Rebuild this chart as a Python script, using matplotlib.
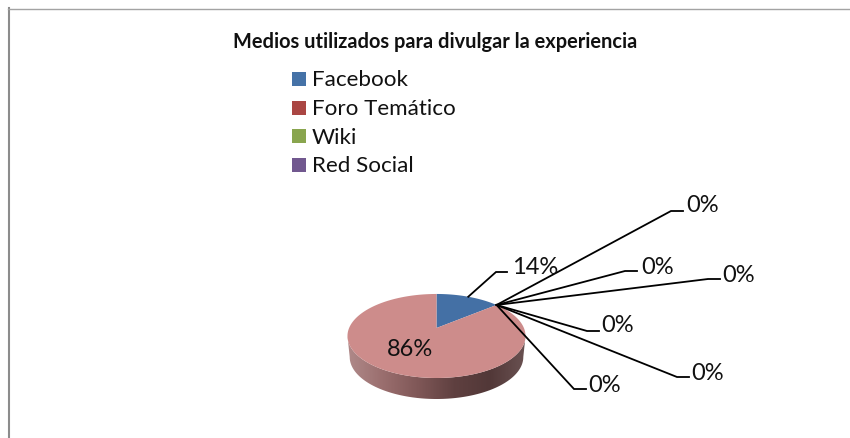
# Pie chart in Excel 3D style, drawn on a full-figure axes in pixel units
import matplotlib
matplotlib.use("Agg")
import matplotlib.pyplot as plt
import numpy as np
from matplotlib.colors import LinearSegmentedColormap
from matplotlib.patches import Polygon, Rectangle

plt.rcParams['font.family'] = ['Lato', 'DejaVu Sans']

# Data
title = "Medios utilizados para divulgar la experiencia"
legend_names = ["Facebook", "Foro Temático", "Wiki", "Red Social"]
legend_colors = ["#4572A7", "#AA4643", "#89A54E", "#71588F"]
slice_values = [14, 0, 0, 0, 0, 0, 0, 86]
slice_colors = ["#4470A5", "#AA4643", "#89A54E", "#71588F", "#4198AF", "#DB843D", "#93A9CF", "#CD8C8B"]

# Layout of the pie (pixels)
apex = (436.5, 328.0)
half_w, half_h, tilt = 87.4, 40.5, 0.19
depth = 21

# Leader elbows and label positions for the labels outside the pie
zero_elbows = [(671, 211), (625, 271), (708, 279), (587, 331), (677, 377), (574, 389)]
zero_label_x = [686, 641, 722, 601, 691, 588]
zero_label_y = [205, 268, 276, 326, 373, 385]


# Circle angle (degrees clockwise from the top) to pixel, with perspective
def project(deg):
    t = np.radians(deg)
    w = 1 + tilt * np.cos(t)
    return apex[0] + half_w * np.sin(t) / w, apex[1] - half_h * np.cos(t) / w


fig = plt.figure(figsize=(8.5, 4.38), dpi=100)
ax = fig.add_axes([0, 0, 1, 1])
ax.set_xlim(0, 850)
ax.set_ylim(438, 0)
ax.axis('off')

# Frame, only left and top are visible
ax.plot([9, 9], [8, 438], color="#8C8C8C", lw=1.5)
ax.plot([8, 850], [8.5, 8.5], color="#A3A3A3", lw=1)

ax.text(435, 42, title, fontsize=14.4, fontweight='bold', ha='center', va='center', color="#111111")

# Legend
for i, name in enumerate(legend_names):
    y = 79 + i * 28.5
    ax.add_patch(Rectangle((292, y - 7), 14, 14, color=legend_colors[i], lw=0))
    ax.text(312, y + 1.5, name, fontsize=16.1, va='center', ha='left', color="#111111")

# Side wall with a horizontal gradient
angles = np.linspace(0, 360, 721)
px, py = project(angles)
cx = (px.min() + px.max()) / 2
cy = (py.min() + py.max()) / 2
front = py >= cy
order = np.argsort(px[front])
front_x, front_y = px[front][order], py[front][order]
low_x = cx + (front_x - cx) * 0.975
low_y = front_y + depth
wall_pts = np.column_stack([np.r_[front_x, low_x[::-1]], np.r_[front_y, low_y[::-1]]])
wall = Polygon(wall_pts, closed=True, fc='none', ec='none')
ax.add_patch(wall)
wall_cmap = LinearSegmentedColormap.from_list(
    "wall", ["#B08A8A", "#9A6E6E", "#7F5757", "#5F4040", "#523838", "#6A5252"])
img = ax.imshow(np.linspace(0, 1, 256)[None, :], cmap=wall_cmap, aspect='auto',
                extent=[px.min(), px.max(), low_y.max() + 1, cy - 5], zorder=1)
img.set_clip_path(wall)
ax.set_xlim(0, 850)
ax.set_ylim(438, 0)

# Slices, from the values
total = sum(slice_values)
edges = np.cumsum([0] + slice_values) / total * 360
for i, v in enumerate(slice_values):
    if v == 0:
        continue
    t = np.linspace(edges[i], edges[i + 1], 200)
    x, y = project(t)
    pts = np.column_stack([np.r_[apex[0], x], np.r_[apex[1], y]])
    ax.add_patch(Polygon(pts, closed=True, fc=slice_colors[i], ec='none', zorder=2))

# Labels and leaders
line_style = dict(color="black", lw=1.3, zorder=3, solid_joinstyle='miter')
pct = [f"{round(v / total * 100)}%" for v in slice_values]

x0, y0 = project((edges[0] + edges[1]) / 2)
ax.plot([x0, 496, 507], [y0, 272, 272], **line_style)
ax.text(512, 268, pct[0], fontsize=17, va='center', ha='left', color="#111111", zorder=4)

zero_ids = [i for i, v in enumerate(slice_values) if v == 0]
for k, i in enumerate(zero_ids):
    x0, y0 = project(edges[i])
    ex, ey = zero_elbows[k]
    ax.plot([x0, ex, ex + 12], [y0, ey, ey], **line_style)
    ax.text(zero_label_x[k], zero_label_y[k], pct[i], fontsize=17, va='center', ha='left',
            color="#111111", zorder=4)

ax.text(410, 349, pct[-1], fontsize=17, va='center', ha='center', color="#111111", zorder=4)

fig.savefig("out.png", dpi=100, facecolor="white")
